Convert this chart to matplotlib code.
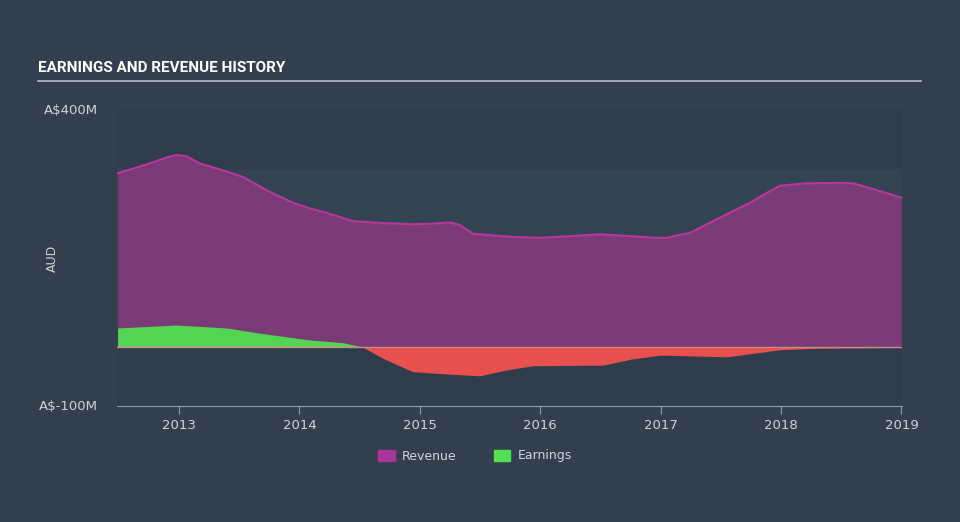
import numpy as np
import matplotlib.pyplot as plt
from matplotlib.patches import Patch

# revenue history (A$ millions)
rev_years = [2012.49, 2012.76, 2012.9, 2012.98, 2013.06, 2013.17, 2013.35, 2013.53, 2013.76,
             2013.95, 2014.1, 2014.23, 2014.45, 2014.7, 2014.92, 2015.1, 2015.25, 2015.33,
             2015.44, 2015.75, 2016.0, 2016.25, 2016.5, 2016.75, 2016.95, 2017.05, 2017.25,
             2017.49, 2017.74, 2017.9, 2017.99, 2018.2, 2018.49, 2018.6, 2018.74, 2019.0]
rev_values = [293, 310, 320, 324, 322, 310, 299, 287, 261,
              243, 233, 226, 212, 209, 207, 208, 210, 206,
              191, 186, 184, 187, 190, 187, 184, 184, 193,
              218, 243, 262, 272, 276, 277, 276, 268, 252]

# earnings history (A$ millions)
earn_years = [2012.49, 2012.98, 2013.4, 2013.67, 2014.09, 2014.36, 2014.52, 2014.7,
              2014.94, 2015.23, 2015.5, 2015.72, 2015.94, 2016.52, 2016.75, 2017.0,
              2017.55, 2017.99, 2018.3, 2019.0]
earn_values = [31.8, 36.8, 31.8, 23, 11.5, 7, 0, -20,
               -42, -46, -49, -39, -32, -31, -21, -14,
               -17, -5, -2.5, -1]

year_ticks = [2013, 2014, 2015, 2016, 2017, 2018, 2019]

bg = "#333f4e"
text_col = "#cfd3d8"

fig = plt.figure(figsize=(9.6, 5.22), dpi=100, facecolor=bg)
ax = fig.add_axes([117 / 960, 1 - 406 / 522, 785 / 960, 296 / 522])
ax.set_facecolor("#2e3c4b")

# lighter band behind the chart body
ax.axhspan(0, 300, color="#344352", zorder=0)

rx = np.array(rev_years)
ry = np.array(rev_values)
ax.fill_between(rx, 0, ry, color="#7a3a75", zorder=2, linewidth=0)
ax.plot(rx, ry, color="#b8359f", lw=1.5, zorder=3)

ex = np.array(earn_years)
ey = np.array(earn_values)
ax.fill_between(ex, 0, ey, where=ey >= 0, interpolate=True, color="#53d553", zorder=4, linewidth=0)
ax.fill_between(ex, 0, ey, where=ey <= 0, interpolate=True, color="#e84f4f", zorder=4, linewidth=0)
ax.axhline(0, color="#c98a8a", lw=1, zorder=5)

ax.set_xlim(2012.485, 2019.005)
ax.set_ylim(-100, 400)
ax.set_yticks([-100, 400])
ax.set_yticklabels(["A$-100M", "A$400M"])
ax.set_xticks(year_ticks)
ax.set_xticklabels([str(y) for y in year_ticks])
ax.tick_params(axis="y", length=0, colors=text_col, labelsize=9.5, pad=14)
ax.tick_params(axis="x", length=6, color="#8e9aa8", colors=text_col, labelsize=9.5)
for s in ["top", "right", "left"]:
    ax.spines[s].set_visible(False)
ax.spines["bottom"].set_color("#8e9aa8")
ax.spines["bottom"].set_zorder(6)
for lbl in ax.get_yticklabels():
    lbl.set_verticalalignment("center")

fig.text(52 / 960, 1 - 258 / 522, "AUD", rotation=90, color=text_col, fontsize=9,
         ha="center", va="center")

fig.text(38 / 960, 1 - 68 / 522, "EARNINGS AND REVENUE HISTORY", color="white",
         fontsize=11, fontweight="bold", family=["Roboto", "DejaVu Sans"],
         ha="left", va="center")
fig.add_artist(plt.Line2D([38 / 960, 921 / 960], [1 - 81 / 522, 1 - 81 / 522],
                          color="#b5bcc4", lw=1.2))

handles = [Patch(color="#a8349a", label="Revenue"), Patch(color="#53e053", label="Earnings")]
fig.legend(handles=handles, loc="center", bbox_to_anchor=(0.495, 1 - 456 / 522), ncol=2,
           frameon=False, labelcolor=text_col, fontsize=9, handlelength=1.3,
           handleheight=1.0, columnspacing=3, handletextpad=0.6)

fig.savefig("out.png", dpi=100, facecolor=bg)
